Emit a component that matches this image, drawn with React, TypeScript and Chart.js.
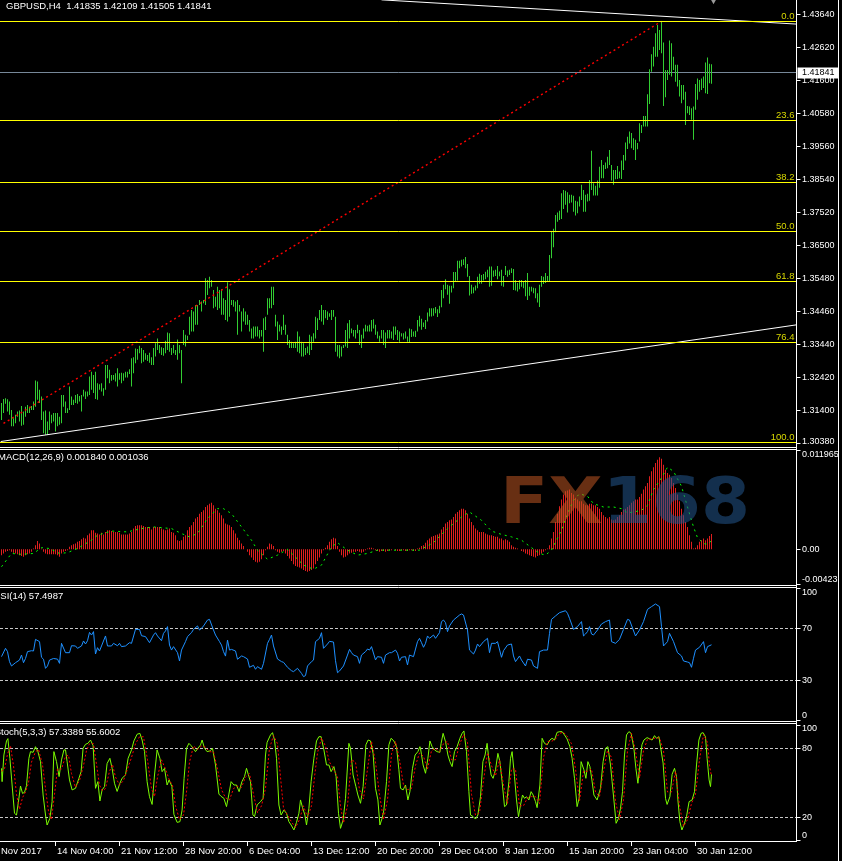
import React, { useEffect, useRef } from 'react';
import { Chart, registerables } from 'chart.js';

Chart.register(...registerables);

const FONT = '"Liberation Sans", Arial, sans-serif';
const WM_FONT = '"DejaVu Sans", sans-serif';
const SLOT_MIN = -0.5;
const SLOT_MAX = 397.5;

// ---------------- DATA ----------------
const symbolTitle = 'GBPUSD,H4  1.41835 1.42109 1.41505 1.41841';
const lastPrice = 1.41841;

const barHigh = [
  1.3163,1.3176,1.3178,1.3175,1.3168,1.3142,1.3116,1.3127,1.3137,1.3140,
  1.3154,1.3137,1.3152,1.3157,1.3152,1.3154,1.3168,1.3233,1.3230,1.3204,
  1.3183,1.3137,1.3140,1.3106,1.3137,1.3127,1.3132,1.3132,1.3132,1.3121,
  1.3188,1.3188,1.3168,1.3147,1.3214,1.3183,1.3173,1.3188,1.3191,1.3185,
  1.3188,1.3204,1.3199,1.3199,1.3245,1.3260,1.3250,1.3260,1.3224,1.3221,
  1.3224,1.3209,1.3281,1.3281,1.3266,1.3250,1.3250,1.3255,1.3271,1.3255,
  1.3257,1.3255,1.3260,1.3260,1.3268,1.3302,1.3305,1.3332,1.3330,1.3340,
  1.3333,1.3327,1.3317,1.3312,1.3319,1.3305,1.3333,1.3348,1.3363,1.3343,
  1.3336,1.3333,1.3356,1.3381,1.3379,1.3333,1.3343,1.3327,1.3360,1.3343,
  1.3327,1.3389,1.3374,1.3371,1.3430,1.3451,1.3446,1.3466,1.3466,1.3482,
  1.3477,1.3482,1.3549,1.3544,1.3554,1.3544,1.3513,1.3492,1.3523,1.3513,
  1.3515,1.3487,1.3482,1.3537,1.3515,1.3482,1.3482,1.3477,1.3482,1.3466,
  1.3446,1.3456,1.3446,1.3436,1.3420,1.3394,1.3400,1.3400,1.3400,1.3389,
  1.3389,1.3425,1.3430,1.3487,1.3487,1.3523,1.3523,1.3436,1.3415,1.3405,
  1.3400,1.3436,1.3405,1.3374,1.3358,1.3353,1.3348,1.3353,1.3384,1.3369,
  1.3353,1.3348,1.3333,1.3338,1.3374,1.3369,1.3379,1.3430,1.3425,1.3451,
  1.3466,1.3451,1.3451,1.3446,1.3441,1.3451,1.3451,1.3430,1.3343,1.3343,
  1.3338,1.3343,1.3389,1.3410,1.3420,1.3394,1.3389,1.3389,1.3405,1.3389,
  1.3374,1.3394,1.3405,1.3402,1.3405,1.3420,1.3422,1.3405,1.3384,1.3371,
  1.3389,1.3389,1.3381,1.3389,1.3389,1.3384,1.3400,1.3400,1.3389,1.3384,
  1.3379,1.3379,1.3384,1.3369,1.3394,1.3391,1.3384,1.3387,1.3420,1.3433,
  1.3424,1.3412,1.3420,1.3443,1.3456,1.3456,1.3456,1.3460,1.3453,1.3464,
  1.3513,1.3529,1.3546,1.3529,1.3526,1.3526,1.3568,1.3568,1.3603,1.3603,
  1.3606,1.3608,1.3615,1.3593,1.3556,1.3529,1.3521,1.3527,1.3554,1.3563,
  1.3559,1.3562,1.3569,1.3575,1.3585,1.3585,1.3573,1.3575,1.3587,1.3570,
  1.3575,1.3556,1.3587,1.3573,1.3575,1.3580,1.3578,1.3544,1.3534,1.3544,
  1.3544,1.3539,1.3544,1.3565,1.3523,1.3523,1.3520,1.3518,1.3503,1.3529,
  1.3556,1.3554,1.3565,1.3556,1.3621,1.3695,1.3702,1.3745,1.3752,1.3758,
  1.3812,1.3822,1.3820,1.3815,1.3807,1.3807,1.3804,1.3789,1.3786,1.3802,
  1.3838,1.3822,1.3807,1.3810,1.3853,1.3943,1.3843,1.3835,1.3851,1.3894,
  1.3915,1.3899,1.3907,1.3925,1.3946,1.3899,1.3884,1.3884,1.3896,1.3879,
  1.3913,1.3930,1.3969,1.3987,1.4003,1.3998,1.3982,1.3977,1.3967,1.4028,
  1.4023,1.4051,1.4051,1.4118,1.4195,1.4242,1.4265,1.4307,1.4332,1.4317,
  1.43436,1.4278,1.4193,1.4193,1.4284,1.4276,1.4234,1.4209,1.4209,1.4162,
  1.4147,1.4147,1.4126,1.4082,1.4080,1.4075,1.4080,1.4150,1.4167,1.4162,
  1.4167,1.4173,1.4216,1.4232,1.4212,1.42109,
];

const barLow = [
  1.3111,1.3132,1.3161,1.3137,1.3127,1.3091,1.3091,1.3101,1.3121,1.3106,
  1.3093,1.3096,1.3121,1.3132,1.3132,1.3142,1.3142,1.3152,1.3173,1.3163,
  1.3111,1.3070,1.3065,1.3065,1.3080,1.3101,1.3106,1.3075,1.3091,1.3096,
  1.3101,1.3152,1.3132,1.3132,1.3142,1.3157,1.3157,1.3163,1.3161,1.3168,
  1.3137,1.3183,1.3176,1.3183,1.3188,1.3204,1.3194,1.3176,1.3173,1.3204,
  1.3199,1.3186,1.3204,1.3240,1.3224,1.3232,1.3235,1.3230,1.3214,1.3235,
  1.3224,1.3232,1.3242,1.3242,1.3253,1.3214,1.3255,1.3286,1.3297,1.3317,
  1.3286,1.3291,1.3297,1.3293,1.3288,1.3281,1.3281,1.3307,1.3327,1.3317,
  1.3312,1.3309,1.3317,1.3327,1.3322,1.3312,1.3317,1.3312,1.3297,1.3317,
  1.3224,1.3343,1.3338,1.3358,1.3374,1.3384,1.3384,1.3405,1.3405,1.3466,
  1.3446,1.3472,1.3466,1.3497,1.3518,1.3523,1.3456,1.3461,1.3451,1.3456,
  1.3436,1.3436,1.3420,1.3415,1.3430,1.3466,1.3461,1.3446,1.3374,1.3446,
  1.3384,1.3415,1.3405,1.3405,1.3384,1.3363,1.3363,1.3369,1.3369,1.3363,
  1.3369,1.3322,1.3389,1.3436,1.3456,1.3456,1.3466,1.3400,1.3358,1.3384,
  1.3374,1.3389,1.3374,1.3343,1.3333,1.3333,1.3333,1.3333,1.3322,1.3317,
  1.3307,1.3307,1.3312,1.3317,1.3312,1.3327,1.3353,1.3363,1.3389,1.3420,
  1.3415,1.3405,1.3425,1.3420,1.3430,1.3420,1.3430,1.3322,1.3307,1.3302,
  1.3307,1.3333,1.3338,1.3333,1.3363,1.3379,1.3369,1.3363,1.3379,1.3343,
  1.3333,1.3363,1.3384,1.3384,1.3384,1.3384,1.3394,1.3374,1.3363,1.3353,
  1.3363,1.3343,1.3333,1.3363,1.3363,1.3363,1.3358,1.3374,1.3358,1.3353,
  1.3369,1.3360,1.3363,1.3353,1.3350,1.3367,1.3369,1.3367,1.3384,1.3400,
  1.3390,1.3398,1.3392,1.3415,1.3431,1.3431,1.3433,1.3441,1.3429,1.3441,
  1.3459,1.3487,1.3515,1.3498,1.3470,1.3505,1.3518,1.3539,1.3542,1.3580,
  1.3585,1.3590,1.3580,1.3554,1.3496,1.3501,1.3503,1.3511,1.3518,1.3532,
  1.3532,1.3542,1.3546,1.3552,1.3523,1.3526,1.3554,1.3556,1.3546,1.3555,
  1.3526,1.3523,1.3559,1.3554,1.3559,1.3565,1.3513,1.3511,1.3508,1.3515,
  1.3523,1.3518,1.3493,1.3482,1.3495,1.3508,1.3503,1.3487,1.3474,1.3460,
  1.3523,1.3531,1.3534,1.3539,1.3539,1.3611,1.3645,1.3691,1.3724,1.3729,
  1.3732,1.3763,1.3776,1.3752,1.3781,1.3783,1.3755,1.3743,1.3750,1.3771,
  1.3791,1.3755,1.3755,1.3786,1.3789,1.3822,1.3805,1.3805,1.3805,1.3829,
  1.3858,1.3858,1.3887,1.3889,1.3899,1.3851,1.3838,1.3855,1.3856,1.3858,
  1.3856,1.3884,1.3913,1.3949,1.3966,1.3951,1.3946,1.3915,1.3948,1.3972,
  1.3998,1.4018,1.4018,1.4018,1.4088,1.4188,1.4204,1.4234,1.4234,1.4255,
  1.4245,1.4082,1.4109,1.4162,1.4178,1.4173,1.4193,1.4157,1.4142,1.4111,
  1.4090,1.4101,1.4023,1.4059,1.4054,1.4039,1.3977,1.4070,1.4101,1.4126,
  1.4131,1.4137,1.4121,1.4119,1.4152,1.41505,
];

const priceTicks = [1.3038, 1.314, 1.3242, 1.3344, 1.3446, 1.3548, 1.365, 1.3752, 1.3854, 1.3956, 1.4058, 1.416, 1.4262, 1.4364];
const fibHigh = 1.43436;
const fibLow = 1.30417;
const fibLevels = [0, 23.6, 38.2, 50, 61.8, 76.4, 100];
const upperTrend = [[190, 1.4410], [397.5, 1.4335]];
const lowerTrend = [[-0.5, 1.3044], [397.5, 1.3405]];
const redRay = [[1, 1.3100], [330, 1.43436]];
const arrowMark = [[356, 1.4409]];

const macdTitle = 'MACD(12,26,9) 0.001840 0.001036';
const macdHist = [
  -0.0007,-0.0005,-0.0003,-0.0002,-0.0001,-0.0003,-0.0004,-0.0005,-0.0006,-0.0007,
  -0.0008,-0.0009,-0.0007,-0.0006,-0.0005,-0.0003,0.0001,0.0005,0.001,0.0007,
  0.0001,-0.0003,-0.0005,-0.0006,-0.0006,-0.0006,-0.0006,-0.0006,-0.0007,-0.0009,
  -0.0005,-0.0003,-0.0002,-0.0001,0.0003,0.0005,0.0006,0.0007,0.0009,0.001,
  0.0012,0.0014,0.0013,0.0017,0.0019,0.0023,0.0023,0.002,0.0019,0.0018,
  0.002,0.0018,0.0021,0.0023,0.0023,0.0022,0.0021,0.0021,0.0021,0.002,
  0.0018,0.0018,0.0018,0.0018,0.0019,0.0021,0.0025,0.0028,0.0029,0.0029,
  0.0029,0.0028,0.0027,0.0027,0.0027,0.0024,0.0027,0.0027,0.0027,0.0027,
  0.0025,0.0024,0.0023,0.0024,0.0025,0.0021,0.002,0.0017,0.0011,0.001,
  0.0011,0.0015,0.0017,0.0023,0.0027,0.0029,0.0033,0.0037,0.0039,0.0043,
  0.0045,0.0047,0.0051,0.0053,0.0055,0.0056,0.0053,0.0049,0.0047,0.0044,
  0.0041,0.0037,0.0031,0.003,0.0029,0.0027,0.0023,0.0019,0.0014,0.0011,
  0.0007,0.0004,0,-0.0003,-0.0007,-0.001,-0.0013,-0.0015,-0.0016,-0.0015,
  -0.0012,-0.0007,-0.0001,0.0003,0.0007,0.0006,0.0004,-0.0001,-0.0003,-0.0004,
  -0.0003,-0.0002,-0.0005,-0.0008,-0.0011,-0.0014,-0.0018,-0.002,-0.0021,-0.0022,
  -0.0023,-0.0025,-0.0026,-0.0027,-0.0026,-0.0025,-0.0023,-0.0018,-0.0014,-0.001,
  -0.0005,-0.0001,0.0002,0.0005,0.0009,0.0012,0.0014,0.0013,0.0004,-0.0003,
  -0.0007,-0.001,-0.0009,-0.0007,-0.0005,-0.0004,-0.0003,-0.0003,-0.0002,-0.0003,
  -0.0004,-0.0003,-0.0001,0.0001,0.0002,0.0002,0.0001,-0.0001,-0.0002,-0.0003,
  -0.0002,-0.0002,-0.0003,-0.0002,-0.0001,-0.0001,0,-0.0001,-0.0002,-0.0002,
  -0.0001,-0.0001,-0.0002,-0.0002,-0.0001,-0.0001,-0.0002,-0.0002,0.0001,0.0002,
  0.0004,0.0005,0.0008,0.0011,0.0013,0.0015,0.0016,0.0017,0.0018,0.0019,
  0.0024,0.0027,0.0031,0.0033,0.0035,0.0036,0.0039,0.0043,0.0045,0.0047,
  0.0049,0.0049,0.0047,0.0043,0.0037,0.0033,0.0029,0.0025,0.0023,0.0021,
  0.0021,0.0021,0.0019,0.0018,0.0017,0.0017,0.0016,0.0015,0.0015,0.0013,
  0.0013,0.0011,0.0012,0.0011,0.0009,0.0005,0.0003,0.0002,0.0001,0,
  -0.0002,-0.0003,-0.0005,-0.0006,-0.0007,-0.0008,-0.0009,-0.001,-0.0008,-0.0007,
  -0.0005,-0.0003,-0.0001,0.0001,0.0005,0.0013,0.0021,0.0033,0.0043,0.0052,
  0.006,0.0066,0.007,0.0071,0.0072,0.0068,0.0066,0.0062,0.006,0.0058,
  0.0058,0.0055,0.0053,0.0053,0.0055,0.0055,0.0053,0.0053,0.0051,0.0049,
  0.0045,0.0041,0.0039,0.0037,0.0039,0.0036,0.0035,0.0036,0.0039,0.0041,
  0.0045,0.0048,0.0049,0.0051,0.0053,0.0056,0.0058,0.006,0.006,0.0063,
  0.0067,0.0072,0.0076,0.008,0.0088,0.0094,0.0099,0.0104,0.0108,0.0111,
  0.0109,0.0102,0.0096,0.0092,0.009,0.0086,0.008,0.0074,0.0066,0.0058,
  0.0049,0.0041,0.0033,0.0027,0.0017,0.0009,0.0001,0.0002,0.0005,0.0009,
  0.0011,0.0013,0.0011,0.0013,0.0016,0.00184,
];
const macdSignal = [
  [0,-0.0021],[5,-0.0005],[10,-0.0006],[16,-0.0005],[20,0.0002],[24,0.0001],[29,-0.0005],[33,-0.0004],
  [38,0.0001],[45,0.0011],[48,0.0017],[55,0.0022],[63,0.0021],[70,0.0025],[76,0.0027],[85,0.0025],
  [90,0.0019],[94,0.0015],[98,0.0019],[103,0.0037],[108,0.0049],[111,0.0049],[115,0.0043],[120,0.0027],
  [125,0.0011],[128,-0.0001],[133,-0.0012],[138,-0.0007],[143,0],[146,-0.0007],[151,-0.0019],[156,-0.0024],
  [160,-0.0019],[165,0.0003],[168,0.0008],[173,-0.0001],[178,-0.0007],[183,-0.0005],[188,-0.0001],[209,-0.0001],
  [216,0.0008],[223,0.0025],[230,0.0039],[234,0.0045],[240,0.0035],[245,0.0022],[250,0.0018],[255,0.0015],
  [260,0.0011],[265,0.0002],[269,-0.0005],[272,-0.0007],[275,-0.0001],[280,0.0023],[283,0.0043],[286,0.0059],
  [289,0.0067],[293,0.0064],[296,0.0055],[301,0.0051],[306,0.0051],[310,0.0049],[313,0.0044],[316,0.0045],
  [320,0.0047],[323,0.0053],[326,0.0072],[330,0.0086],[333,0.0099],[336,0.0094],[340,0.0076],[343,0.0051],
  [346,0.0027],[348,0.0014],[351,0.0007],[353,0.0006],[355,0.001036],
];
const macdTicks = [0.011965, 0, -0.00423];
const macdTickLabels = ['0.011965', '0.00', '-0.00423'];

const rsiTitle = 'RSI(14) 57.4987';
const rsiPoints = [
  [0,48.5],[2,54.8],[3,52.3],[4,44.7],[5,41.4],[7,43.9],[9,45.9],[10,49.7],[11,43.9],[12,47.1],[13,52.3],[15,53],
  [16,52.8],[17,61.6],[19,59.9],[20,48],[21,46.5],[22,39.6],[23,41.4],[24,45.9],[26,47.1],[28,46.6],[29,43.4],[30,58.6],
  [32,51.5],[34,51.5],[35,56.8],[37,56.6],[38,54.8],[40,56.6],[41,60.4],[42,58.1],[43,60.6],[44,66.9],[45,64.9],[46,67.5],
  [47,50.5],[48,55.3],[49,52.8],[50,56.6],[52,64.2],[53,56.6],[55,56.6],[56,58.6],[58,56.8],[59,58.6],[60,56.1],[62,56.6],
  [64,59.1],[65,58.6],[67,69.2],[69,69.2],[70,64.4],[72,63.7],[74,59.1],[76,64.9],[77,66.7],[78,64.2],[80,60.6],[81,66.2],
  [82,68],[83,71.3],[84,57.3],[85,53.5],[86,56.1],[88,51.5],[89,45.2],[90,53.5],[92,59.9],[93,63.7],[95,66.7],[96,69.2],
  [98,71.8],[99,68.7],[100,70],[101,71.8],[103,76.3],[104,76.8],[106,68.7],[107,64.9],[109,59.9],[110,57.3],[111,52.3],[112,48.9],
  [113,61.1],[114,53.5],[115,54],[117,52.8],[118,46.5],[120,49],[121,48.5],[123,46.7],[124,40.4],[126,41.9],[127,38.9],[128,40.9],
  [130,38.9],[131,43.4],[133,58.6],[134,61.6],[135,64.9],[136,56.6],[138,46.7],[140,44.7],[141,44.2],[143,40.4],[145,37.8],[146,37.1],
  [148,39.6],[150,35.8],[151,33.3],[152,34.1],[153,41.4],[155,44.7],[156,45.9],[157,59.9],[159,62.4],[160,66.7],[161,54.8],[163,58.1],
  [164,60.1],[166,59.6],[167,45.4],[168,36.3],[169,37.6],[171,41.4],[173,49.7],[174,54],[175,51.5],[176,49.7],[178,48.5],[179,43.4],
  [180,49.7],[182,52.3],[183,54.3],[184,53.5],[185,56.1],[187,46],[188,48.5],[190,48],[191,43.4],[192,49.7],[194,51.5],[195,51.5],
  [197,53.5],[198,51],[199,45.2],[200,48],[202,48.5],[203,42.2],[204,49.7],[206,48.5],[208,59.9],[209,62.4],[210,59.1],[211,55.6],
  [212,58.6],[213,64.2],[214,62.4],[216,64.9],[217,62.4],[219,66.7],[220,75.1],[221,76.3],[222,74.3],[223,67.5],[224,71.8],[226,76.3],
  [229,80.1],[230,80.9],[231,80.1],[233,68.7],[234,53.5],[236,50.5],[237,53.5],[238,58.1],[239,56.1],[241,59.9],[243,62.4],[244,51.5],
  [245,58.6],[247,58.6],[248,59.9],[250,48],[251,53],[253,57.3],[255,58.1],[256,49],[257,44.7],[259,49],[260,45.9],[262,41.4],
  [263,46.5],[265,45.9],[266,41.4],[268,39.6],[269,52.3],[271,53.5],[273,53.5],[274,66.2],[275,76.8],[277,79.4],[279,81.9],[282,83.4],
  [283,81.4],[284,77.6],[286,69.2],[288,71.3],[290,75.1],[291,64.2],[292,65.7],[293,67.5],[294,71.3],[295,65.7],[296,64.9],[298,68.7],
  [300,73.3],[302,75.1],[304,76.3],[305,59.9],[307,58.6],[309,61.6],[311,69.2],[313,76.8],[314,76.3],[317,64.2],[319,68.7],[321,75.1],
  [323,84.4],[325,86.5],[327,88.5],[329,86.5],[330,71.3],[331,56.6],[333,59.9],[334,66.2],[336,59.9],[338,51.5],[340,49],[341,45.2],
  [343,44.4],[344,43.9],[345,40.4],[346,47.3],[347,53.5],[349,55.6],[351,59.9],[352,51.5],[353,56.1],[355,57.4987],
];
const rsiTicks = [100, 70, 30, 0];
const rsiLevels = [70, 30];

const stochTitle = 'Stoch(5,3,3) 57.3389 55.6002';
const stochMain = [
  [0,62.6],[0.3,51],[1.2,74.2],[2.5,86.4],[3.2,88.4],[4.2,71.3],[5.3,48.1],[6.5,23.5],[7.5,22],[8.7,36.5],[9.5,47.2],[10.5,40.8],
  [11.5,41.7],[12.5,47.5],[13.7,71.3],[14.5,77.1],[15.8,76.5],[17,81.4],[18.2,77.1],[19.5,68.4],[20.8,39.4],[22,22],[22.8,13.3],[24.2,19.1],
  [25.3,33.6],[26.2,77.1],[27.5,68.4],[28.8,55.4],[30,69.9],[31.2,78.6],[32,78.6],[32.8,68.4],[34,52.5],[35.3,43.8],[37,45.2],[38.7,53.9],
  [39.8,59.7],[40.8,80],[42,83.5],[43.2,84.3],[44.5,87.2],[45.8,82.3],[47,45.2],[48.2,51],[49.2,34.2],[50.3,43.8],[51.5,46.7],[52.8,66.8],
  [54.2,71.3],[55.3,62.6],[56.5,49.6],[57.8,42.5],[59.2,49.6],[60.3,54],[62,56.8],[63.3,71.3],[65,78.6],[66.2,86.4],[67.8,92.2],[69.2,93],
  [70.3,87.2],[71.5,77.1],[72.8,51],[74,37.9],[75.3,31.2],[76.5,56.8],[77.8,78.6],[79.2,71.3],[80.3,59.7],[81.5,62.6],[82.8,48.1],[83.8,52.5],
  [85.2,46.7],[86.2,22.6],[87.8,15.6],[89.2,16.2],[90.3,26.3],[91.3,53.9],[92.5,80],[93.7,84.3],[94.8,82.3],[95.8,80],[97,77.1],[98.2,80],
  [99.5,82.9],[100.3,87.2],[101.5,80],[102.8,77.1],[104.2,77.7],[105.5,80],[107,65.5],[108.7,40.2],[109.8,38.2],[111.2,36.5],[112.5,29.3],[113.7,40.2],
  [114.8,51],[116.2,48.1],[117.5,48.1],[118.8,42.3],[120.2,51],[121.5,55.4],[122.5,62.6],[123.7,55.4],[124.5,51],[125.7,22],[126.5,20.6],[127.8,30.7],
  [129.5,33.6],[130.8,36.5],[132,74.2],[132.8,85.2],[134.5,91.6],[135.5,93.6],[136.5,87.2],[137.5,71.3],[138.7,30.7],[139.8,22],[141.2,26.3],[142.5,23.5],
  [143.7,16.2],[144.8,13.3],[146.2,9],[147.5,15.6],[148.7,23.5],[149.5,35.1],[150.5,28.4],[151.7,22],[152.5,13.3],[153.7,27.8],[154.8,51],[156.2,71.3],
  [157.5,86.4],[158.7,90.1],[159.8,90.1],[161.2,78.6],[162.5,65.5],[163.7,65.5],[164.8,59.7],[166.2,64.1],[167.3,55.4],[168.5,23.5],[169.5,10.4],[170.8,17.7],
  [172,36.5],[173.7,84.3],[174.5,80],[175.8,56.8],[177.2,46.7],[178.2,39.4],[179.5,32.2],[180.8,46.7],[182.2,83],[183.3,87.2],[184.5,86.4],[185.8,75.6],
  [187,45.2],[188.2,35.1],[189.2,13.3],[190.3,19.1],[191.2,26.3],[192.5,51],[193.7,83],[194.8,88.7],[196.2,86.4],[197.5,81.4],[198.7,61.3],[199.5,45.2],
  [200.8,43.8],[202,48.1],[203.2,35.1],[204.2,42.3],[205.5,62.6],[206.8,74.2],[208.2,77.1],[209.2,81.4],[209.5,80],[210.8,65.5],[212,58.3],[213.2,71.3],
  [214.2,86.4],[215.3,81.4],[216.5,78.6],[217.8,77.1],[219.2,76.5],[219.8,84.3],[220.8,93],[222,85.8],[223.2,74.2],[224.2,68.4],[225.3,64.1],[226.5,77.1],
  [227.8,81.4],[229.2,88.7],[230.3,93],[231.2,95.1],[232.5,77.1],[233.7,42.3],[234.5,22],[235.8,20.6],[237,18.5],[238.2,22],[239.5,37.9],[240.7,68.4],
  [241.8,74.2],[242.8,84.3],[243.8,68.4],[244.8,56.8],[245.8,53.9],[247,61.3],[248.2,75.6],[249.2,68.4],[250.3,51],[251.5,29.3],[252.5,30.7],[253.7,51],
  [254.5,71.3],[255.3,77.1],[256.5,55.4],[257.5,35.1],[258.5,20.6],[259.5,30.7],[260.5,39.4],[261.5,36.5],[262.5,37.9],[263.7,35.1],[264.8,42.3],[265.8,39.4],
  [267,33.6],[267.8,28.4],[269.2,48.1],[270.3,88.7],[271.5,84.3],[272.8,82.9],[274.2,87.2],[275.3,88.7],[276.5,87.2],[277.8,93.9],[279.2,94.5],[280.3,94.5],
  [281.5,91.6],[282.8,88.1],[284.2,81.4],[285.3,71.3],[286.5,53.9],[287.8,29.3],[288.8,36.5],[289.8,68.4],[291.2,61.3],[292.2,53.9],[293.2,68.4],[294.2,64.1],
  [295.2,52.5],[296.2,39.4],[297.8,35.1],[299.5,45.2],[300.8,68.4],[302,80],[303.2,81.4],[304.5,65.5],[305.3,51],[306.2,35.1],[307.3,14.8],[308.5,19.1],
  [309.5,27.8],[310.5,42.3],[311.5,74.2],[312.5,91.6],[313.7,94.5],[314.8,93],[316.2,80],[317.2,62.6],[318.2,49.6],[319.2,65.5],[320.2,83],[321.2,87.2],
  [322.8,89.3],[324.2,88.1],[325.3,87.2],[326.5,91],[327.5,88.7],[328.7,90.1],[329.5,81.4],[330.8,67.2],[332,36.5],[332.8,31.2],[334.2,37.9],[335.3,57.4],
  [336.5,62.6],[337.5,55.4],[338.2,35.1],[339.2,16.2],[340.2,9],[341.2,13.3],[342.5,20.6],[343.8,33.6],[345.3,35.1],[346.5,42.3],[347.5,65.5],[348.7,87.2],
  [349.8,93],[350.8,93.6],[352,89.9],[352.8,71.3],[353.8,52.5],[354.5,46.7],[355,57.3389],
];
const stochSignal = [
  [0,60],[1.5,62],[3,75],[4.5,82],[6,65],[7.5,40],[9,27],[10.5,37],[12,42],[13.5,50],[15,68],[17,77],[18.5,79],[20.5,66],
  [22,45],[23.5,25],[25,18],[26.5,40],[28,62],[30,62],[32,73],[33.5,74],[35,58],[37,46],[39,52],[41,65],[42.5,78],[44,84],
  [46,84],[47.5,66],[49,48],[50.5,43],[52,45],[54,60],[55.5,66],[57,55],[59,48],[61,52],[63,62],[65,72],[67,84],[69,90],
  [71,90],[73,70],[75,45],[76.5,38],[78,55],[80,70],[82,62],[84,52],[85.5,48],[87,30],[89,18],[91,22],[92.5,42],[94,68],
  [96,82],[98,79],[100,82],[102,81],[104,77],[106,77],[108,62],[110,44],[112,37],[114,35],[116,45],[118,47],[120,46],[122,55],
  [124,58],[126,40],[128,24],[130,30],[132,45],[134,80],[136,91],[138,84],[139.5,55],[141,28],[143,22],[145,16],[147,11],[149,18],
  [151,30],[153,20],[155,30],[156.5,55],[158,76],[160,89],[162,82],[164,68],[166,62],[168,55],[169.5,30],[171,15],[173,30],[175,70],
  [177,68],[179,44],[181,36],[183,62],[185,86],[187,68],[189,40],[191,18],[193,35],[195,75],[197,86],[199,70],[201,48],[203,44],
  [205,45],[207,65],[209,76],[211,73],[213,62],[215,78],[217,80],[219,77],[221,84],[223,86],[225,70],[227,70],[229,83],[231,92],
  [233,85],[235,40],[237,22],[239,24],[241,52],[243,76],[245,65],[247,56],[249,70],[251,48],[253,32],[255,62],[257,62],[259,30],
  [261,30],[263,37],[265,38],[267,38],[269,32],[271,72],[273,86],[275,86],[277,88],[279,93],[281,94],[283,90],[285,84],[287,62],
  [289,34],[291,60],[293,60],[295,62],[297,42],[299,38],[301,60],[303,78],[305,72],[307,34],[309,18],[311,35],[313,78],[315,93],
  [317,78],[319,54],[321,78],[323,88],[325,88],[327,89],[329,89],[331,78],[333,42],[335,42],[337,60],[339,30],[341,12],[343,18],
  [345,32],[347,40],[349,70],[351,92],[353,85],[354,65],[355,55.6002],
];
const stochTicks = [100, 80, 20, 0];
const stochLevels = [80, 20];

const timeTickBars = [27, 59, 91, 123, 155, 187, 219, 251, 283, 315, 347];
const timeTickLabels = ['14 Nov 04:00', '21 Nov 12:00', '28 Nov 20:00', '6 Dec 04:00', '13 Dec 12:00', '20 Dec 20:00', '29 Dec 04:00', '8 Jan 12:00', '15 Jan 20:00', '23 Jan 04:00', '30 Jan 12:00'];
const firstTimeLabel = 'Nov 2017';

// ---------------- LAYOUT ----------------
type Geo = { top: number; height: number; padTop: number; padBottom: number; min: number; max: number };
const GEO: { [k: string]: Geo } = {
  main: { top: 0, height: 448, padTop: 0, padBottom: 1, min: 1.30272, max: 1.44095 },
  macd: { top: 448, height: 138, padTop: 1, padBottom: 1, min: -0.0043, max: 0.01209 },
  rsi: { top: 586, height: 136, padTop: 1, padBottom: 1, min: -0.4, max: 101.4 },
  stoch: { top: 722, height: 139, padTop: 1, padBottom: 20, min: -0.6, max: 102 },
};

const pts = (arr: number[][]) => arr.map(([x, y]) => ({ x, y }));

function baseOptions(g: Geo): any {
  return {
    responsive: false,
    maintainAspectRatio: false,
    animation: false,
    devicePixelRatio: 1,
    events: [],
    layout: { autoPadding: false, padding: { left: 0.5, right: 45.5, top: g.padTop, bottom: g.padBottom } },
    plugins: { legend: { display: false }, tooltip: { enabled: false } },
    scales: {
      x: { type: 'linear', min: SLOT_MIN, max: SLOT_MAX, offset: false, bounds: 'data', display: false },
      y: { type: 'linear', min: g.min, max: g.max, bounds: 'data', display: false },
    },
  };
}

function hline(ctx: any, x0: number, x1: number, y: number, color: string, dash?: number[]) {
  ctx.save();
  ctx.strokeStyle = color;
  ctx.lineWidth = 1;
  ctx.setLineDash(dash || []);
  ctx.beginPath();
  ctx.moveTo(x0, y);
  ctx.lineTo(x1, y);
  ctx.stroke();
  ctx.restore();
}
function vline(ctx: any, x: number, y0: number, y1: number, color: string) {
  ctx.save();
  ctx.strokeStyle = color;
  ctx.lineWidth = 1;
  ctx.beginPath();
  ctx.moveTo(x, y0);
  ctx.lineTo(x, y1);
  ctx.stroke();
  ctx.restore();
}

function makeOverlay(o: any) {
  return {
    id: 'mt4overlay',
    beforeDatasetsDraw(chart: any) {
      const { ctx, chartArea: a, scales } = chart;
      for (const l of o.levels || []) {
        const y = Math.floor(scales.y.getPixelForValue(l.v)) + 0.5;
        hline(ctx, a.left - 0.5, a.right, y, l.color, l.dash);
      }
    },
    afterDatasetsDraw(chart: any) {
      const { ctx, chartArea: a, scales } = chart;
      if (o.fib) {
        ctx.save();
        ctx.font = `9.5px ${FONT}`;
        ctx.textAlign = 'right';
        ctx.textBaseline = 'alphabetic';
        for (const lvl of fibLevels) {
          const price = fibHigh - ((fibHigh - fibLow) * lvl) / 100;
          const y = Math.floor(scales.y.getPixelForValue(price)) + 0.5;
          hline(ctx, a.left - 0.5, a.right, y, '#ffff00');
          ctx.fillStyle = '#d8d800';
          ctx.fillText(lvl.toFixed(1), a.right - 2, y - 3);
        }
        ctx.restore();
      }
      if (o.watermark) {
        ctx.save();
        ctx.font = `bold 64px ${WM_FONT}`;
        ctx.textAlign = 'left';
        ctx.textBaseline = 'alphabetic';
        const wFX = ctx.measureText('FX').width;
        const w168 = ctx.measureText('168').width;
        const sx = 250 / (wFX + w168);
        ctx.translate(500, 523 - GEO.macd.top);
        ctx.scale(sx, 1);
        ctx.fillStyle = 'rgba(190,85,35,0.55)';
        ctx.fillText('FX', 0, 0);
        ctx.fillStyle = 'rgba(35,85,140,0.55)';
        ctx.fillText('168', wFX, 0);
        ctx.restore();
      }
    },
    afterDraw(chart: any) {
      const { ctx, chartArea: a, scales, height } = chart;
      const white = '#ffffff';
      if (o.topBorder) hline(ctx, 0, a.right, a.top + 0.5, white);
      hline(ctx, 0, a.right, a.bottom + 0.5, white);
      vline(ctx, a.right, 0, o.timeAxis ? a.bottom + 1 : height, white);
      vline(ctx, 838.5, 0, height, white);
      ctx.save();
      ctx.font = `9px ${FONT}`;
      ctx.fillStyle = white;
      ctx.textAlign = 'left';
      ctx.textBaseline = 'middle';
      o.ticks.forEach((v: number, k: number) => {
        const py = scales.y.getPixelForValue(v);
        const ty = Math.floor(Math.min(Math.max(py, a.top), a.bottom - 0.01)) + 0.5;
        hline(ctx, a.right, a.right + 4, ty, white);
        const ly = Math.min(Math.max(py, a.top + 5.5), a.bottom - 5.5);
        ctx.fillText(o.tickLabels[k], a.right + 5.5, ly);
      });
      if (o.priceBox) {
        const py = scales.y.getPixelForValue(lastPrice);
        ctx.fillStyle = '#ffffff';
        ctx.fillRect(a.right + 1, Math.round(py) - 5.5, 41, 11);
        ctx.fillStyle = '#000000';
        ctx.fillText(lastPrice.toFixed(5), a.right + 5.5, py);
      }
      ctx.font = `9.5px ${FONT}`;
      ctx.fillStyle = white;
      ctx.fillText(o.header.text, o.header.x, o.header.y);
      if (o.timeAxis) {
        const ly = 851 - GEO.stoch.top;
        ctx.fillText(firstTimeLabel, 1, ly);
        timeTickBars.forEach((b: number, k: number) => {
          const px = Math.floor(scales.x.getPixelForValue(b)) + 0.5;
          vline(ctx, px, a.bottom + 1, a.bottom + 5, white);
          ctx.fillText(timeTickLabels[k], px + 1.5, ly);
        });
      }
      ctx.restore();
    },
  };
}

function mainConfig(): any {
  const g = GEO.main;
  return {
    type: 'bar',
    data: {
      datasets: [
        { type: 'line', data: pts(upperTrend), borderColor: '#ffffff', borderWidth: 1, pointRadius: 0, order: 1 },
        { type: 'line', data: pts(lowerTrend), borderColor: '#ffffff', borderWidth: 1, pointRadius: 0, order: 1 },
        { type: 'line', data: pts(redRay), borderColor: '#ff0000', borderWidth: 1.4, borderDash: [2, 3], pointRadius: 0, order: 1 },
        {
          type: 'line', data: pts(arrowMark), showLine: false, pointStyle: 'triangle', pointRotation: 180,
          pointRadius: 4, pointBackgroundColor: '#9a9a9a', pointBorderWidth: 0, order: 0,
        },
        {
          type: 'bar', data: barHigh.map((h, i) => ({ x: i, y: [barLow[i], h] })),
          backgroundColor: '#32cd32', barThickness: 1, borderWidth: 0, inflateAmount: 0, order: 2,
        },
      ],
    },
    options: baseOptions(g),
    plugins: [
      makeOverlay({
        levels: [{ v: lastPrice, color: '#778899' }],
        fib: true,
        topBorder: false,
        ticks: priceTicks,
        tickLabels: priceTicks.map((p) => p.toFixed(5)),
        priceBox: true,
        header: { text: symbolTitle, x: 6, y: 6.5 },
      }),
    ],
  };
}

function macdConfig(): any {
  const g = GEO.macd;
  return {
    type: 'bar',
    data: {
      datasets: [
        { type: 'line', data: pts(macdSignal), borderColor: '#00ff00', borderWidth: 1, borderDash: [2, 4], pointRadius: 0, order: 0 },
        {
          type: 'bar', data: macdHist.map((v, i) => ({ x: i, y: v })),
          backgroundColor: '#e01e1e', barThickness: 1, borderWidth: 0, inflateAmount: 0, order: 1,
        },
      ],
    },
    options: baseOptions(g),
    plugins: [
      makeOverlay({
        topBorder: true,
        watermark: true,
        ticks: macdTicks,
        tickLabels: macdTickLabels,
        header: { text: macdTitle, x: -2, y: 457 - g.top },
      }),
    ],
  };
}

function rsiConfig(): any {
  const g = GEO.rsi;
  return {
    type: 'line',
    data: {
      datasets: [
        { data: pts(rsiPoints), borderColor: '#1e90ff', borderWidth: 1, pointRadius: 0, tension: 0 },
      ],
    },
    options: baseOptions(g),
    plugins: [
      makeOverlay({
        topBorder: true,
        levels: rsiLevels.map((v) => ({ v, color: '#c8c8c8', dash: [3, 2] })),
        ticks: rsiTicks,
        tickLabels: rsiTicks.map((v) => String(v)),
        header: { text: rsiTitle, x: -6.5, y: 596.7 - g.top },
      }),
    ],
  };
}

function stochConfig(): any {
  const g = GEO.stoch;
  return {
    type: 'line',
    data: {
      datasets: [
        { data: pts(stochMain), borderColor: '#7cfc00', borderWidth: 1, pointRadius: 0, tension: 0, order: 1 },
        { data: pts(stochSignal), borderColor: '#ff0000', borderWidth: 1, borderDash: [2, 2], pointRadius: 0, tension: 0, order: 0 },
      ],
    },
    options: baseOptions(g),
    plugins: [
      makeOverlay({
        topBorder: true,
        levels: stochLevels.map((v) => ({ v, color: '#c8c8c8', dash: [3, 2] })),
        ticks: stochTicks,
        tickLabels: stochTicks.map((v) => String(v)),
        header: { text: stochTitle, x: -5.3, y: 732.3 - g.top },
        timeAxis: true,
      }),
    ],
  };
}

export default function App() {
  const mainRef = useRef<HTMLCanvasElement>(null);
  const macdRef = useRef<HTMLCanvasElement>(null);
  const rsiRef = useRef<HTMLCanvasElement>(null);
  const stochRef = useRef<HTMLCanvasElement>(null);

  useEffect(() => {
    document.body.style.margin = '0';
    document.body.style.background = '#000';
    const charts = [
      new Chart(mainRef.current as HTMLCanvasElement, mainConfig()),
      new Chart(macdRef.current as HTMLCanvasElement, macdConfig()),
      new Chart(rsiRef.current as HTMLCanvasElement, rsiConfig()),
      new Chart(stochRef.current as HTMLCanvasElement, stochConfig()),
    ];
    return () => charts.forEach((c) => c.destroy());
  }, []);

  const cv = (g: Geo): React.CSSProperties => ({ position: 'absolute', left: 0, top: g.top, width: 842, height: g.height, display: 'block' });

  return (
    <div style={{ position: 'relative', width: 842, height: 861, background: '#000', overflow: 'hidden' }}>
      <canvas ref={mainRef} width={842} height={GEO.main.height} style={cv(GEO.main)} />
      <canvas ref={macdRef} width={842} height={GEO.macd.height} style={cv(GEO.macd)} />
      <canvas ref={rsiRef} width={842} height={GEO.rsi.height} style={cv(GEO.rsi)} />
      <canvas ref={stochRef} width={842} height={GEO.stoch.height} style={cv(GEO.stoch)} />
    </div>
  );
}
